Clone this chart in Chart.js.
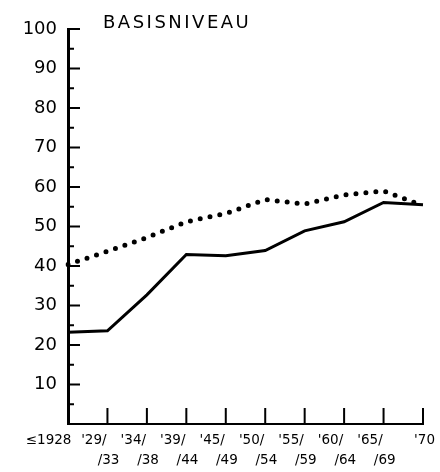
<!DOCTYPE html>
<html>
  <head>
    <script src="https://cdn.jsdelivr.net/npm/chart.js@4.4.0/dist/chart.umd.min.js"></script>
    <style>
      body { margin: 0; background: #fff; }
      #wrap { width: 440px; height: 472px; }
    </style>
  </head>
  <body>
    <div id="wrap"><canvas id="chart-basisniveau"></canvas></div>
    <script>
      // INPUT DATA

      const periods = [
        ["≤1928  "],
        ["'29/   ", "/33"],
        ["'34/   ", "/38"],
        ["'39/   ", "/44"],
        ["'45/   ", "/49"],
        ["'50/   ", "/54"],
        ["'55/   ", "/59"],
        ["'60/   ", "/64"],
        ["'65/   ", "/69"],
        ["'70"],
      ];
      const solidSeries = [23.2, 23.6, 32.7, 42.9, 42.6, 43.9, 48.9, 51.2, 56.1, 55.5];
      const dottedSeries = [40.4, 43.7, 47.2, 51.2, 53.3, 56.8, 55.7, 58.0, 59.0, 55.3];
      const yTicks = [10, 20, 30, 40, 50, 60, 70, 80, 90, 100];
      const titleText = "BASISNIVEAU";

      // PLOTTING

      // small tick marks drawn inward from both axes, as in the print
      const inwardTicks = {
        id: "inwardTicks",
        afterDraw(chart) {
          const ctx = chart.ctx;
          const x = chart.scales.x;
          const y = chart.scales.y;
          const area = chart.chartArea;
          ctx.save();
          ctx.strokeStyle = "#000";
          ctx.lineWidth = 2;
          ctx.beginPath();
          for (let v = 5; v <= 100; v += 5) {
            const py = y.getPixelForValue(v);
            const len = v % 10 === 0 ? 12 : 6;
            ctx.moveTo(area.left, py);
            ctx.lineTo(area.left + len, py);
          }
          for (let i = 1; i < periods.length; i++) {
            const px = x.getPixelForValue(i);
            ctx.moveTo(px, area.bottom);
            ctx.lineTo(px, area.bottom - 16);
          }
          ctx.stroke();
          // heading
          ctx.fillStyle = "#000";
          ctx.font = "18px 'DejaVu Sans'";
          ctx.letterSpacing = "2.5px";
          ctx.textAlign = "left";
          ctx.textBaseline = "alphabetic";
          ctx.fillText(titleText, 103, 28);
          ctx.restore();
        },
      };

      const ctx = document.getElementById("chart-basisniveau").getContext("2d");
      new Chart(ctx, {
        type: "line",
        data: {
          labels: periods,
          datasets: [
            {
              label: "solid",
              data: solidSeries,
              borderColor: "#000",
              borderWidth: 3,
              pointRadius: 0,
              tension: 0,
              fill: false,
            },
            {
              label: "dotted",
              data: dottedSeries,
              borderColor: "#000",
              borderWidth: 5,
              borderDash: [0, 10],
              borderCapStyle: "round",
              pointRadius: 0,
              tension: 0,
              fill: false,
            },
          ],
        },
        options: {
          responsive: true,
          maintainAspectRatio: false,
          animation: false,
          layout: { padding: { top: 29, right: 17, bottom: 0, left: 0 } },
          plugins: { legend: { display: false }, tooltip: { enabled: false } },
          scales: {
            x: {
              type: "category",
              offset: false,
              afterFit: (s) => { s.height = 48; },
              grid: { drawOnChartArea: false, drawTicks: false },
              border: { display: true, color: "#000", width: 2 },
              ticks: {
                autoSkip: false,
                maxRotation: 0,
                align: "end",
                labelOffset: 12,
                padding: 6,
                color: "#000",
                font: { family: "'DejaVu Sans'", size: 13.5, lineHeight: 1.5 },
              },
            },
            y: {
              min: 0,
              max: 100,
              afterFit: (s) => { s.width = 68; },
              afterBuildTicks: (s) => { s.ticks = yTicks.map((v) => ({ value: v })); },
              grid: { drawOnChartArea: false, drawTicks: false },
              border: { display: true, color: "#000", width: 3 },
              ticks: {
                padding: 11,
                color: "#000",
                font: { family: "'DejaVu Sans'", size: 18 },
              },
            },
          },
        },
        plugins: [inwardTicks],
      });
    </script>
  </body>
</html>
